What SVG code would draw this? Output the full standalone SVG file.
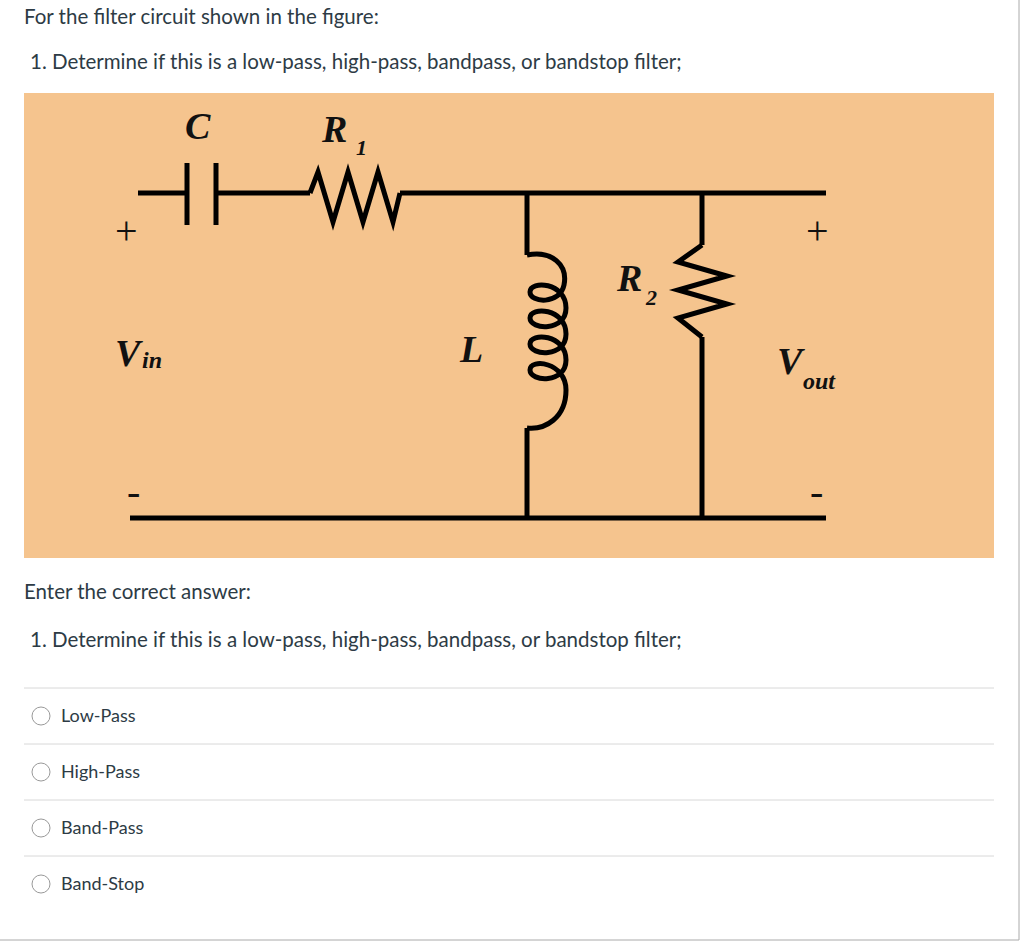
<svg xmlns="http://www.w3.org/2000/svg" width="1024" height="946" viewBox="0 0 1024 946">
<style>
.t{font-family:Lato,"Open Sans",sans-serif;font-size:20.5px;fill:#2d3b45}
.o{font-family:Lato,"Open Sans",sans-serif;font-size:18px;fill:#2d3b45}
.w{stroke:#000;stroke-width:5;fill:none;stroke-linejoin:miter}
.l{font-family:"Liberation Serif",serif;font-weight:bold;font-style:italic;fill:#111}
.s{font-family:"Liberation Serif",serif;font-size:40px;fill:#111}
.sep{stroke:#d8d8d8;stroke-width:1}
.r{fill:#fff;stroke:#999;stroke-width:1}
</style>
<rect width="1024" height="946" fill="#fff"/>
<line x1="1019" y1="0" x2="1019" y2="940" stroke="#aaa"/>
<line x1="0" y1="940" x2="1019" y2="940" stroke="#aaa"/>
<text class="t" x="24" y="24">For the filter circuit shown in the figure:</text>
<text class="t" x="30" y="69">1.  Determine if this is a low-pass, high-pass, bandpass, or bandstop filter;</text>
<g id="figure">
<rect x="24" y="93" width="970" height="465" fill="#f5c48e"/>
<g id="connectors">
<path class="w" d="M138,193 H187 M216,193 H310 M400,193 H455"/>
<path class="w" d="M455,193 H826"/>
<path class="w" d="M130,518 H826"/>
<path class="w" d="M527,193 V255 M527,428 V518"/>
<path class="w" d="M702,193 V245 M702,337 V518"/>
</g>
<g id="C"><path class="w" d="M187,163 V225 M216,163 V225"/><text class="l" x="185" y="139" font-size="38">C</text></g>
<g id="R1"><path class="w" d="M310,193 L318,172 L333,222 L348,172 L363,222 L378,172 L393,222 L400,193"/><text class="l" x="322" y="142" font-size="38">R</text><text class="l" x="356" y="155" font-size="22">1</text></g>
<g id="L"><path class="w" d="M527,255 C552,250 568,265 564,285 C560,305 530,303 530,292 C530,280 566,282 566,308 C566,332 530,330 530,318 C530,306 566,308 566,334 C566,358 530,356 530,344 C530,332 566,334 566,360 C566,384 530,382 530,370 C530,358 566,362 566,390 C566,418 545,430 527,428"/><text class="l" x="460" y="362" font-size="38">L</text></g>
<g id="R2"><path class="w" d="M702,245 L678,262 L727,276 L678,290 L727,304 L678,318 L702,337"/><text class="l" x="617" y="291" font-size="38">R</text><text class="l" x="646" y="305" font-size="22">2</text></g>
<g id="Vin"><text class="s" x="115" y="244">+</text><text class="s" x="127" y="505">-</text><text class="l" x="115" y="366" font-size="38">V</text><text class="l" x="142" y="368" font-size="24">in</text></g>
<g id="Vout"><text class="s" x="806" y="244">+</text><text class="s" x="810" y="505">-</text><text class="l" x="777" y="374" font-size="38">V</text><text class="l" x="803" y="389" font-size="24">out</text></g>
</g>
<text class="t" x="24" y="599">Enter the correct answer:</text>
<text class="t" x="30" y="647">1.  Determine if this is a low-pass, high-pass, bandpass, or bandstop filter;</text>
<line class="sep" x1="24" y1="688" x2="994" y2="688"/>
<line class="sep" x1="24" y1="744" x2="994" y2="744"/>
<line class="sep" x1="24" y1="800" x2="994" y2="800"/>
<line class="sep" x1="24" y1="856" x2="994" y2="856"/>
<circle class="r" cx="41" cy="716" r="9"/><text class="o" x="61" y="722">Low-Pass</text>
<circle class="r" cx="41" cy="772" r="9"/><text class="o" x="61" y="778">High-Pass</text>
<circle class="r" cx="41" cy="828" r="9"/><text class="o" x="61" y="834">Band-Pass</text>
<circle class="r" cx="41" cy="884" r="9"/><text class="o" x="61" y="890">Band-Stop</text>
</svg>
